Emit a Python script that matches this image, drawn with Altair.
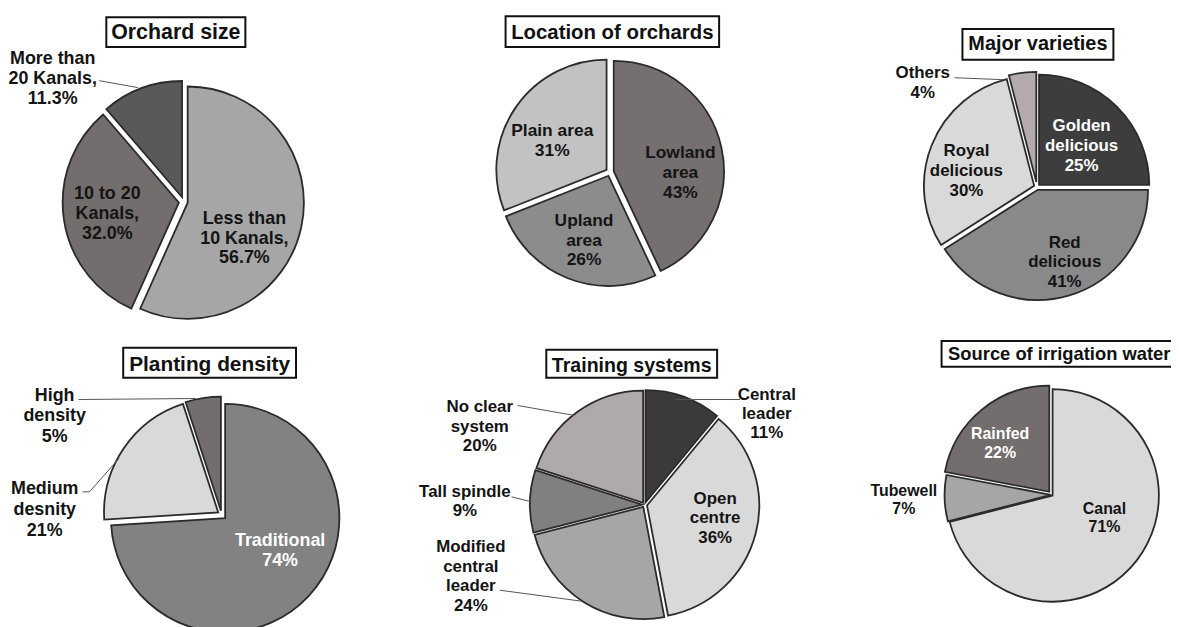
import math
import altair as alt
import pandas as pd

# ---------------- data ----------------
orchard_cats = ["Less than 10 Kanals", "10 to 20 Kanals", "More than 20 Kanals"]
orchard_vals = [56.7, 32.0, 11.3]

location_cats = ["Lowland area", "Upland area", "Plain area"]
location_vals = [43, 26, 31]

variety_cats = ["Golden delicious", "Red delicious", "Royal delicious", "Others"]
variety_vals = [25, 41, 30, 4]

density_cats = ["Traditional", "Medium desnity", "High density"]
density_vals = [74, 21, 5]

training_cats = ["Central leader", "Open centre", "Modified central leader",
                 "Tall spindle", "No clear system"]
training_vals = [11, 36, 24, 9, 20]

irrigation_cats = ["Canal", "Tubewell", "Rainfed"]
irrigation_vals = [71, 7, 22]

panel_titles = ["Orchard size", "Location of orchards", "Major varieties",
                "Planting density", "Training systems", "Source of irrigation water"]

# label text lines (percentage appended from the values)
label_lines = {
    "Less than 10 Kanals": ["Less than", "10 Kanals,"],
    "10 to 20 Kanals": ["10 to 20", "Kanals,"],
    "More than 20 Kanals": ["More than", "20 Kanals,"],
    "Lowland area": ["Lowland", "area"],
    "Upland area": ["Upland", "area"],
    "Plain area": ["Plain area"],
    "Golden delicious": ["Golden", "delicious"],
    "Red delicious": ["Red", "delicious"],
    "Royal delicious": ["Royal", "delicious"],
    "Others": ["Others"],
    "Traditional": ["Traditional"],
    "Medium desnity": ["Medium", "desnity"],
    "High density": ["High", "density"],
    "Central leader": ["Central", "leader"],
    "Open centre": ["Open", "centre"],
    "Modified central leader": ["Modified", "central", "leader"],
    "Tall spindle": ["Tall spindle"],
    "No clear system": ["No clear", "system"],
    "Canal": ["Canal"],
    "Tubewell": ["Tubewell"],
    "Rainfed": ["Rainfed"],
}

panels = [
    (orchard_cats, orchard_vals, "{:.1f}%"),
    (location_cats, location_vals, "{:.0f}%"),
    (variety_cats, variety_vals, "{:.0f}%"),
    (density_cats, density_vals, "{:.0f}%"),
    (training_cats, training_vals, "{:.0f}%"),
    (irrigation_cats, irrigation_vals, "{:.0f}%"),
]

# ---------------- styles / layout (page pixel coordinates) ----------------
OFF = 8  # page margin
slice_colors = [
    ["#a6a6a6", "#736d6d", "#595959"],
    ["#766f6f", "#8c8c8c", "#c2c2c2"],
    ["#3d3d3d", "#898989", "#d9d9d9", "#b3abab"],
    ["#828282", "#d9d9d9", "#736d6d"],
    ["#3b3939", "#d9d9d9", "#a6a6a6", "#808080", "#b0a9a9"],
    ["#d9d9d9", "#a6a6a6", "#736d6d"],
]
pie_layout = [  # center x, center y, radius, explode per slice
    (185, 201, 117, [4, 5, 5]),
    (614, 171, 111, [4, 4, 4]),
    (1044, 186, 111, [3, 3, 3, 5]),
    (223, 516, 115, [5, 4, 4]),
    (649, 506, 113, [2.5, 2.5, 2.5, 2.5, 2.5]),
    (1059, 496, 107, [1, 1, 4]),
]
title_boxes = [  # x0, y0, x1, y1, text baseline y, font size
    (107, 15, 247, 45, 37, 21.5),
    (509, 14, 724, 45, 37, 20.5),
    (969, 27, 1121, 58, 48, 20),
    (124, 348, 298, 378, 371, 21),
    (550, 350, 722, 378, 372, 19.7),
    (948, 341, 1185, 367, 360, 18.5),
]
label_font = [18, 17.5, 17, 18, 17, 16]
label_lh = [20, 20, 20, 21, 19.5, 18.5]
# per slice: label centre x, first-line centre y, text colour
label_pos = [
    [(246, 218, "#141414"), (108, 193, "#141414"), (53, 57, "#141414")],
    [(685, 152, "#141414"), (588, 220, "#141414"), (556, 130, "#141414")],
    [(1089, 125, "#ffffff"), (1072, 242, "#141414"), (973, 150, "#141414"), (929, 71, "#141414")],
    [(282, 542, "#ffffff"), (45, 490, "#141414"), (55, 396, "#141414")],
    [(772, 395, "#141414"), (720, 500, "#141414"), (474, 549, "#141414"),
     (468, 493, "#141414"), (483, 408, "#141414")],
    [(1112, 510, "#141414"), (910, 492, "#141414"), (1007, 435, "#ffffff")],
]
leaders = [  # polyline points (page coords)
    [(100, 79), (139, 86)],
    [(961, 76), (1011, 78)],
    [(79, 400), (197, 399)],
    [(83, 493), (90, 493), (120, 459)],
    [(521, 406), (578, 416)],
    [(515, 498), (535, 503)],
    [(503, 592), (585, 603)],
    [(680, 400), (745, 400)],
]

# ---------------- build tables ----------------
slice_rows, keys, colors = [], [], []
label_rows = []
for p, ((cats, vals, fmt), (cx, cy, r, exp)) in enumerate(zip(panels, pie_layout)):
    for i, (c, v) in enumerate(zip(cats, vals)):
        key = f"{p}|{c}"
        keys.append(key)
        colors.append(slice_colors[p][i])
        slice_rows.append(dict(panel=p, order=i, cat=c, value=v, key=key,
                               cx=cx - OFF, cy=cy - OFF, r=r, explode=exp[i]))
        lx, ly, tc = label_pos[p][i]
        lines = label_lines[c] + [fmt.format(v)]
        for j, t in enumerate(lines):
            label_rows.append(dict(x=lx - OFF, y=ly - OFF + j * label_lh[p], text=t,
                                   tcolor=tc, size=label_font[p]))

slices_df = pd.DataFrame(slice_rows)
labels_df = pd.DataFrame(label_rows)

box_df = pd.DataFrame([dict(x0=b[0] - OFF, y0=b[1] - OFF, x1=b[2] - OFF, y1=b[3] - OFF,
                            tx=(b[0] + b[2]) / 2 - OFF, ty=b[4] - OFF, size=b[5], title=t)
                       for b, t in zip(title_boxes, panel_titles)])

lead_rows = []
for k, pts in enumerate(leaders):
    for j, (x, y) in enumerate(pts):
        lead_rows.append(dict(lid=k, idx=j, x=x - OFF, y=y - OFF))
lead_df = pd.DataFrame(lead_rows)

FONT = "Liberation Sans"

arcs = alt.Chart(slices_df).transform_joinaggregate(
    total="sum(value)", groupby=["panel"]
).transform_window(
    cum="sum(value)", groupby=["panel"], sort=[alt.SortField("order")], frame=[None, 0]
).transform_calculate(
    t0="(datum.cum - datum.value) / datum.total",
    t1="datum.cum / datum.total",
).transform_calculate(
    mid="PI * (datum.t0 + datum.t1)"
).transform_calculate(
    px="datum.cx + datum.explode * sin(datum.mid)",
    py="datum.cy - datum.explode * cos(datum.mid)",
).mark_arc(stroke="#2b2b2b", strokeWidth=1.8).encode(
    theta=alt.Theta("t0:Q", scale=alt.Scale(domain=[0, 1], range=[0, 2 * math.pi])),
    theta2="t1:Q",
    radius=alt.Radius("r:Q", scale=None),
    x=alt.X("px:Q", scale=None),
    y=alt.Y("py:Q", scale=None),
    color=alt.Color("key:N", scale=alt.Scale(domain=keys, range=colors), legend=None),
)

lead = alt.Chart(lead_df).mark_line(color="#555555", strokeWidth=1).encode(
    x=alt.X("x:Q", scale=None),
    y=alt.Y("y:Q", scale=None),
    detail="lid:N",
    order="idx:Q",
)

boxes = alt.Chart(box_df).mark_rect(fill="white", stroke="#111111", strokeWidth=2).encode(
    x=alt.X("x0:Q", scale=None), x2="x1:Q",
    y=alt.Y("y0:Q", scale=None), y2="y1:Q",
)

title_text = alt.Chart(box_df).mark_text(
    font=FONT, fontWeight="bold", baseline="alphabetic", align="center", color="#111111"
).encode(
    x=alt.X("tx:Q", scale=None),
    y=alt.Y("ty:Q", scale=None),
    text="title:N",
    size=alt.Size("size:Q", scale=None),
)

labels = alt.Chart(labels_df).mark_text(
    font=FONT, fontWeight="bold", baseline="middle", align="center"
).encode(
    x=alt.X("x:Q", scale=None),
    y=alt.Y("y:Q", scale=None),
    text="text:N",
    size=alt.Size("size:Q", scale=None),
    color=alt.Color("tcolor:N", scale=None),
)

chart = alt.layer(arcs, lead, boxes, title_text, labels).properties(
    width=1171, height=640, padding=0, autosize="none"
).configure_view(stroke=None)

chart.save("out.html", embed_options={"renderer": "svg", "actions": False})
